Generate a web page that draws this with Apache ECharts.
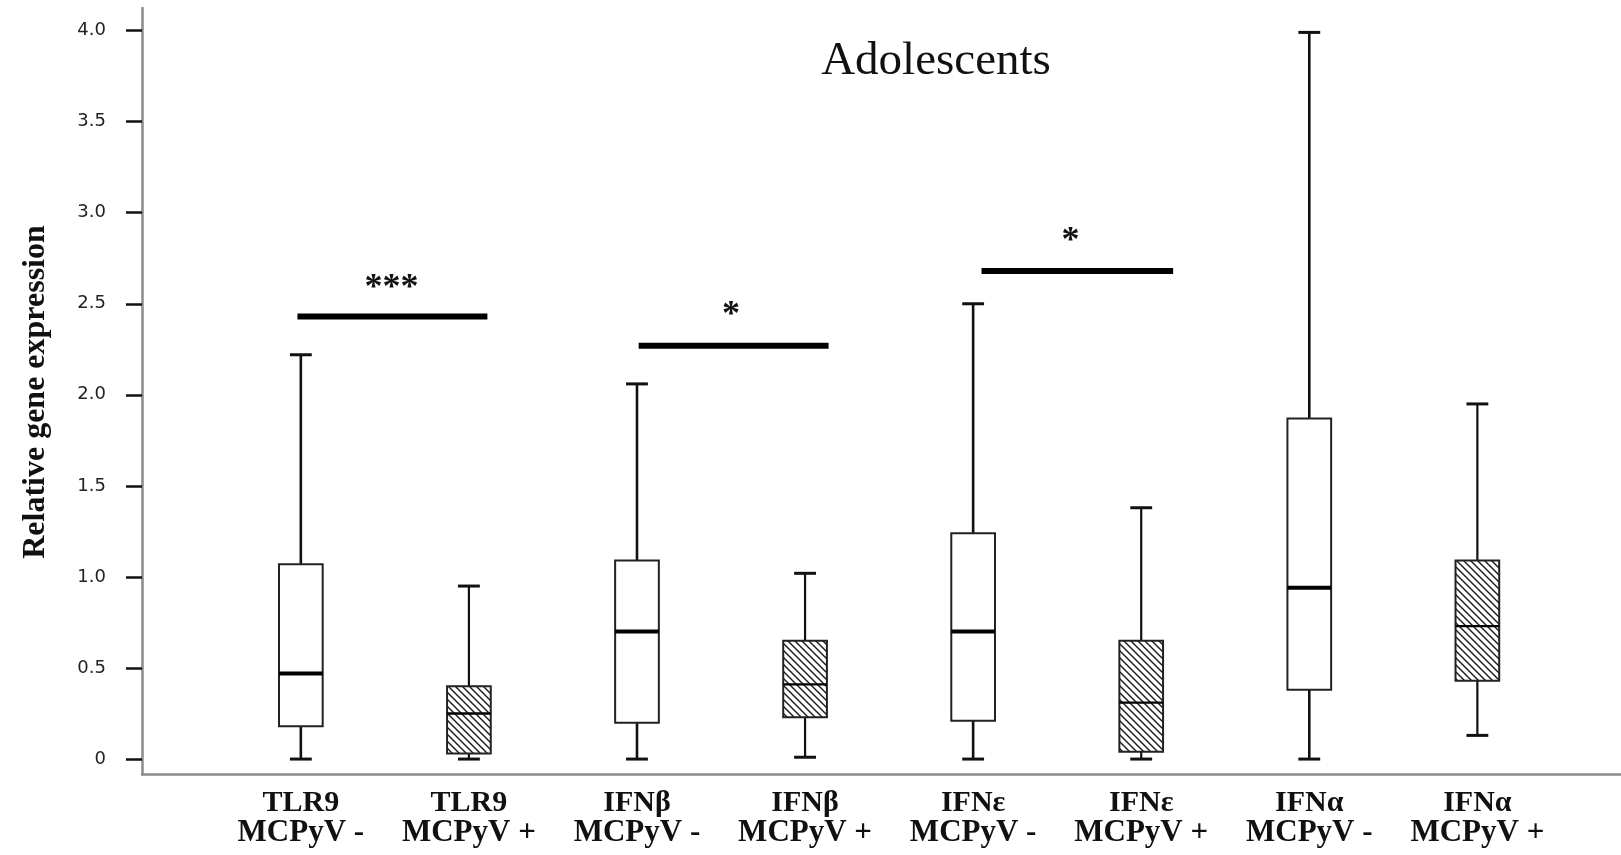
<!DOCTYPE html>
<html>
<head>
<meta charset="utf-8">
<script src="https://cdn.jsdelivr.net/npm/echarts@6/dist/echarts.min.js"></script>
<style>
  html, body { margin: 0; padding: 0; background: #fff; }
  #chart { width: 1621px; height: 855px; }
</style>
</head>
<body>
<div id="chart"></div>
<script>
// ---------------- data ----------------
const genes    = ['TLR9', 'TLR9', 'IFNβ', 'IFNβ', 'IFNε', 'IFNε', 'IFNα', 'IFNα'];
const status   = ['MCPyV -', 'MCPyV +', 'MCPyV -', 'MCPyV +', 'MCPyV -', 'MCPyV +', 'MCPyV -', 'MCPyV +'];
const hatched  = [false, true, false, true, false, true, false, true];
// box statistics: min, Q1, median, Q3, max
const whiskerLow  = [0.00, 0.00, 0.00, 0.01, 0.00, 0.00, 0.00, 0.13];
const quartile1   = [0.18, 0.03, 0.20, 0.23, 0.21, 0.04, 0.38, 0.43];
const medians     = [0.47, 0.25, 0.70, 0.41, 0.70, 0.31, 0.94, 0.73];
const quartile3   = [1.07, 0.40, 1.09, 0.65, 1.24, 0.65, 1.87, 1.09];
const whiskerHigh = [2.22, 0.95, 2.06, 1.02, 2.50, 1.38, 3.99, 1.95];
// significance bars (anchor category, level, start/end/text offsets in category units, text level)
const sigAnchor   = [0, 2, 4];
const sigLevel    = [2.43, 2.27, 2.68];
const sigStart    = [-0.02, 0.01, 0.05];
const sigEnd      = [1.11, 1.14, 1.19];
const sigTextPos  = [0.54, 0.56, 0.58];
const sigTextLvl  = [2.58, 2.435, 2.84];
const sigText     = ['***', '*', '*'];
const yTicks      = [0, 0.5, 1.0, 1.5, 2.0, 2.5, 3.0, 3.5, 4.0];
const yMin = -0.082, yMax = 4.124;
const titleText = 'Adolescents';
const yName = 'Relative gene expression';

// ---------------- build ----------------
const categories = genes.map((g, i) => '{g|' + g + '}\n{s|' + status[i] + '}');
const boxData = genes.map((g, i) => [i, whiskerLow[i], quartile1[i], medians[i], quartile3[i], whiskerHigh[i]]);
const sigData = sigAnchor.map((a, i) => [a, sigLevel[i], sigStart[i], sigEnd[i], sigTextPos[i], sigTextLvl[i]]);

// hatch tile
const tile = document.createElement('canvas');
tile.width = 7; tile.height = 7;
(function () {
  const c = tile.getContext('2d');
  c.fillStyle = '#fff'; c.fillRect(0, 0, 7, 7);
  c.strokeStyle = '#1a1a1a'; c.lineWidth = 1.4;
  c.beginPath();
  c.moveTo(-1, -1); c.lineTo(8, 8);
  c.moveTo(-1, 6); c.lineTo(1, 8);
  c.moveTo(6, -1); c.lineTo(8, 1);
  c.stroke();
})();

const chart = echarts.init(document.getElementById('chart'), null, { renderer: 'canvas' });

function renderBox(params, api) {
  const idx = api.value(0);
  const bw = api.size([1, 0])[0];
  const pMin = api.coord([idx, api.value(1)]);
  const pQ1 = api.coord([idx, api.value(2)]);
  const pMed = api.coord([idx, api.value(3)]);
  const pQ3 = api.coord([idx, api.value(4)]);
  const pMax = api.coord([idx, api.value(5)]);
  const cx = pMed[0];
  const boxW = bw * 0.26;
  const capW = boxW * 0.5;
  const isH = hatched[params.dataIndex];
  const lineCol = '#111';
  const wl = isH ? 2.2 : 2.6;
  return {
    type: 'group',
    children: [
      { type: 'line', shape: { x1: cx, y1: pQ3[1], x2: cx, y2: pMax[1] }, style: { stroke: lineCol, lineWidth: wl } },
      { type: 'line', shape: { x1: cx, y1: pQ1[1], x2: cx, y2: pMin[1] }, style: { stroke: lineCol, lineWidth: wl } },
      { type: 'line', shape: { x1: cx - capW / 2, y1: pMax[1], x2: cx + capW / 2, y2: pMax[1] }, style: { stroke: lineCol, lineWidth: 3 } },
      { type: 'line', shape: { x1: cx - capW / 2, y1: pMin[1], x2: cx + capW / 2, y2: pMin[1] }, style: { stroke: lineCol, lineWidth: 3 } },
      { type: 'rect', shape: { x: cx - boxW / 2, y: pQ3[1], width: boxW, height: pQ1[1] - pQ3[1] },
        style: { fill: isH ? { image: tile, repeat: 'repeat' } : '#fff', stroke: '#222', lineWidth: 2 } },
      { type: 'line', shape: { x1: cx - boxW / 2, y1: pMed[1], x2: cx + boxW / 2, y2: pMed[1] },
        style: { stroke: '#000', lineWidth: isH ? 2.4 : 4 } }
    ]
  };
}

function renderSig(params, api) {
  const a = api.value(0);
  const bw = api.size([1, 0])[0];
  const base = api.coord([a, api.value(1)]);
  const tp = api.coord([a, api.value(5)]);
  return {
    type: 'group',
    children: [
      { type: 'line', shape: { x1: base[0] + api.value(2) * bw, y1: base[1], x2: base[0] + api.value(3) * bw, y2: base[1] },
        style: { stroke: '#000', lineWidth: 6 } },
      { type: 'text', x: base[0] + api.value(4) * bw, y: tp[1],
        style: { text: sigText[params.dataIndex], fill: '#111', font: 'bold 36px "Liberation Serif"', align: 'center', verticalAlign: 'middle' } }
    ]
  };
}

const axisGray = { color: '#8a8a8a', width: 2.5 };

const option = {
  backgroundColor: '#fff',
  animation: false,
  title: {
    text: titleText, left: 931, top: 33, textAlign: 'center',
    textStyle: { fontFamily: 'Liberation Serif', fontSize: 47, fontWeight: 'normal', color: '#111' }
  },
  graphic: [{
    type: 'text', x: 36, y: 392, rotation: Math.PI / 2,
    style: { text: yName, font: 'bold 32px "Liberation Serif"', fill: '#111', align: 'center', verticalAlign: 'middle' }
  }],
  grid: [
    { left: 142, right: 0, top: 8, bottom: 81 },
    { left: 216.8, right: 59.6, top: 8, bottom: 81 }
  ],
  xAxis: [
    { gridIndex: 0, type: 'value', min: 0, max: 1,
      axisLine: { show: true, onZero: false, lineStyle: axisGray },
      axisTick: { show: false }, axisLabel: { show: false }, splitLine: { show: false } },
    { gridIndex: 1, type: 'category', data: categories,
      axisLine: { show: false }, axisTick: { show: false }, splitLine: { show: false },
      axisLabel: { interval: 0, margin: 14,
        rich: {
          g: { fontFamily: 'Liberation Serif', fontWeight: 'bold', fontSize: 30, lineHeight: 30, color: '#111' },
          s: { fontFamily: 'Liberation Serif', fontWeight: 'bold', fontSize: 31, lineHeight: 30, color: '#111' }
        } } }
  ],
  yAxis: [
    { gridIndex: 0, type: 'value', min: yMin, max: yMax,
      axisLine: { show: true, onZero: false, lineStyle: axisGray },
      axisTick: { show: true, length: 16, customValues: yTicks, lineStyle: { color: '#111', width: 2.5 } },
      axisLabel: { customValues: yTicks, margin: 36, fontFamily: 'DejaVu Sans', fontSize: 18, color: '#222',
        formatter: v => (v === 0 ? '0' : v.toFixed(1)) },
      splitLine: { show: false } },
    { gridIndex: 1, type: 'value', min: yMin, max: yMax, show: false, splitLine: { show: false } }
  ],
  series: [
    { type: 'custom', xAxisIndex: 1, yAxisIndex: 1, data: boxData, renderItem: renderBox,
      encode: { x: 0, y: [1, 2, 3, 4, 5] }, clip: false, silent: true },
    { type: 'custom', xAxisIndex: 1, yAxisIndex: 1, data: sigData, renderItem: renderSig,
      encode: { x: 0, y: [1, 5] }, clip: false, silent: true }
  ]
};
chart.setOption(option);
</script>
</body>
</html>
